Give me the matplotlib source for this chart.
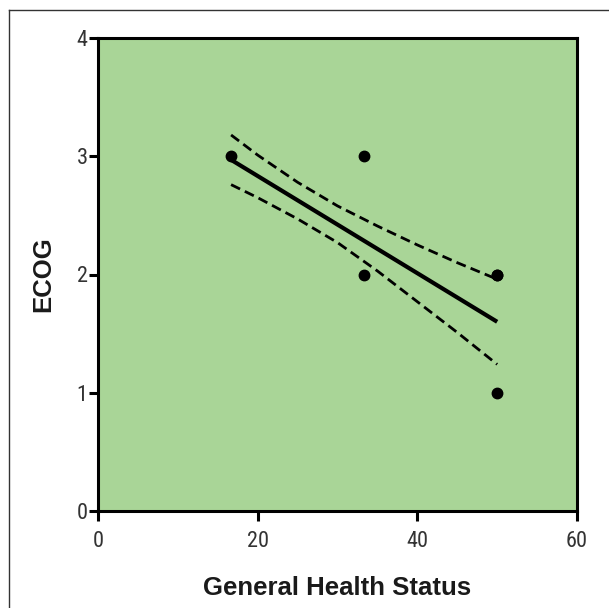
import matplotlib
matplotlib.use("Agg")
import matplotlib.pyplot as plt
from matplotlib.lines import Line2D
from matplotlib import font_manager as fm

# Data
pts_x = [16.67, 33.33, 33.33, 50.0, 50.0, 50.0]
pts_y = [3.0, 3.0, 2.0, 2.0, 2.0, 1.0]

fit_x = [16.67, 50.0]
fit_y = [2.97, 1.60]

ci_x = [16.67, 20, 25, 30, 35, 40, 45, 50]
ci_upper = [3.18, 3.01, 2.78, 2.58, 2.41, 2.25, 2.10, 1.96]
ci_lower = [2.76, 2.65, 2.47, 2.27, 2.03, 1.77, 1.51, 1.24]

x_ticks = [0, 20, 40, 60]
y_ticks = [0, 1, 2, 3, 4]

# pick a condensed face for tick labels if one is installed
names = {f.name for f in fm.fontManager.ttflist}
cond = None
for cand in ["Liberation Sans Narrow", "Roboto Condensed", "Open Sans Condensed",
             "DejaVu Sans Condensed", "Noto Sans Condensed"]:
    if cand in names:
        cond = cand
        break
if cond:
    tickfont = [cond, "DejaVu Sans"]
    ticksize = 16
else:
    tickfont = ["Liberation Sans", "DejaVu Sans"]
    ticksize = 14.5

fig = plt.figure(figsize=(6.09, 6.08), dpi=100)
ax = fig.add_axes([98/609, 1-511/608, (577-98)/609, (511-38)/608])
ax.set_facecolor("#a9d597")

ax.plot(fit_x, fit_y, color="black", lw=3.0, solid_capstyle="butt", zorder=3)
ax.plot(ci_x, ci_upper, color="black", lw=2.0, ls=(0, (3.6, 1.9)), zorder=3)
ax.plot(ci_x, ci_lower, color="black", lw=2.0, ls=(0, (3.6, 1.9)), zorder=3)
ax.plot(pts_x, pts_y, "o", color="black", ms=7.5, zorder=4)

ax.set_xlim(0, 60)
ax.set_ylim(0, 4)
ax.set_xticks(x_ticks)
ax.set_yticks(y_ticks)
for s in ax.spines.values():
    s.set_linewidth(2.2)
ax.tick_params(axis="both", direction="out", width=2.2, colors="black",
               labelcolor="#333333", labelsize=ticksize)
ax.tick_params(axis="x", length=7.5, pad=7)
ax.tick_params(axis="y", length=6.5, pad=1)
for lab in ax.get_xticklabels() + ax.get_yticklabels():
    lab.set_family(tickfont)

ax.set_xlabel("General Health Status", fontsize=18.5, fontweight="bold",
              family=["Liberation Sans", "DejaVu Sans"], labelpad=17, color="#1a1a1a")
ax.set_ylabel("ECOG", fontsize=18.5, fontweight="bold",
              family=["Liberation Sans", "DejaVu Sans"], labelpad=15.5, color="#1a1a1a")

# outer frame (left and top edges visible)
fig.add_artist(Line2D([9/609, 9/609], [0, 1-10/608], transform=fig.transFigure,
                      color="#333333", lw=1.0))
fig.add_artist(Line2D([9/609, 1], [1-10/608, 1-10/608], transform=fig.transFigure,
                      color="#333333", lw=1.0))

fig.savefig("out.png", dpi=100)
